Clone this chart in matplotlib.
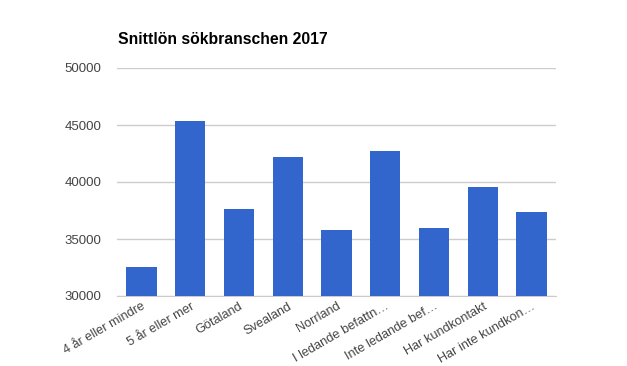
import matplotlib
matplotlib.use("Agg")
import matplotlib.pyplot as plt

categories = ["4 år eller mindre", "5 år eller mer", "Götaland", "Svealand", "Norrland",
              "I ledande befattn…", "Inte ledande bef…", "Har kundkontakt", "Har inte kundkon…"]
values = [32550, 45380, 37630, 42190, 35790, 42720, 35960, 39560, 37370]
yticks = [30000, 35000, 40000, 45000, 50000]

plt.rcParams['font.family'] = ['Liberation Sans', 'DejaVu Sans']
fig = plt.figure(figsize=(6.27, 3.66), dpi=100)
ax = fig.add_axes([117/627, 1-296/366, (556-117)/627, (296-68)/366])
x = list(range(len(categories)))
ax.bar(x, values, width=0.62, color="#3366cc", zorder=3)
ax.set_ylim(30000, 50000)
ax.set_xlim(-0.5, len(categories)-0.5)
ax.set_yticks(yticks)
ax.set_yticklabels([str(v) for v in yticks], color="#444444", fontsize=9.5)
ax.set_xticks(x)
ax.set_xticklabels(categories, rotation=30, ha="right", rotation_mode="anchor",
                   color="#444444", fontsize=9.2)
ax.tick_params(axis="y", length=0, pad=11)
ax.tick_params(axis="x", length=0, pad=3)
ax.grid(axis="y", color="#cccccc", linewidth=1, zorder=0)
for s in ["top", "right", "left"]:
    ax.spines[s].set_visible(False)
ax.spines["bottom"].set_color("#cccccc")
ax.spines["bottom"].set_zorder(1)
fig.text(118/627, 1-40/366, "Snittlön sökbranschen 2017", fontsize=11.3, fontweight="bold",
         color="#000000", va="center", ha="left")
fig.savefig("out.png", dpi=100)
